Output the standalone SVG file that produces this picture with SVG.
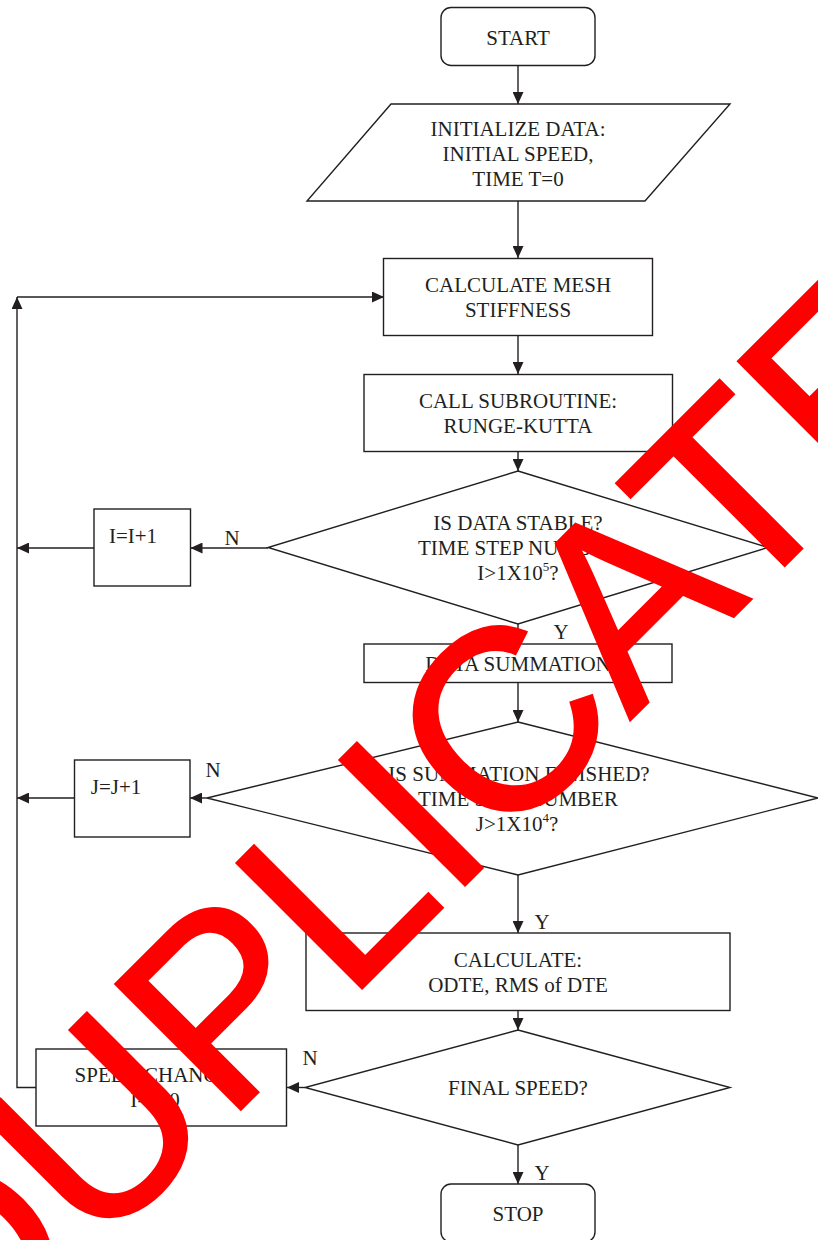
<svg xmlns="http://www.w3.org/2000/svg" width="818" height="1240" viewBox="0 0 818 1240">
<style>
.t{font-family:"Liberation Serif","Times New Roman",serif;font-size:21px;fill:#231f20;text-anchor:middle}
.s{fill:#fff;stroke:#231f20;stroke-width:1.4}
.c{fill:none;stroke:#231f20;stroke-width:1.4}
.wm{font-family:"Liberation Sans",Arial,sans-serif;font-size:257px;fill:#ff0000;stroke:#ff0000;stroke-width:3;stroke-linejoin:miter}
</style>
<defs>
<marker id="ah" markerUnits="userSpaceOnUse" markerWidth="12" markerHeight="11" refX="12" refY="5.5" orient="auto">
<path d="M0,0 L12,5.5 L0,11 Z" fill="#231f20"/>
</marker>
</defs>
<rect width="818" height="1240" fill="#fff"/>
<g id="connectors" class="c" marker-end="url(#ah)">
<line x1="518" y1="66" x2="518" y2="104"/>
<line x1="518" y1="201" x2="518" y2="258"/>
<line x1="518" y1="336" x2="518" y2="374"/>
<line x1="518" y1="451" x2="518" y2="471"/>
<line x1="518" y1="624" x2="518" y2="644"/>
<line x1="518" y1="682" x2="518" y2="722"/>
<line x1="518" y1="875" x2="518" y2="933"/>
<line x1="518" y1="1010" x2="518" y2="1030"/>
<line x1="518" y1="1145" x2="518" y2="1184"/>
<line x1="268" y1="548" x2="190.5" y2="548"/>
<line x1="94" y1="548" x2="17" y2="548"/>
<line x1="207" y1="798" x2="190" y2="798"/>
<line x1="75" y1="798" x2="17" y2="798"/>
<line x1="305" y1="1087.5" x2="287" y2="1087.5"/>
<path d="M36,1087.5 H17 V297"/>
<line x1="17" y1="297" x2="384" y2="297"/>
</g>
<g id="start"><rect class="s" x="441" y="7.5" width="154" height="58" rx="10"/><text class="t" x="518" y="45">START</text></g>
<g id="init"><polygon class="s" points="391,104 730,104 645,201 307,201"/>
<text class="t" x="518" y="136">INITIALIZE DATA:</text><text class="t" x="518" y="161">INITIAL SPEED,</text><text class="t" x="518" y="186">TIME T=0</text></g>
<g id="mesh"><rect class="s" x="383.5" y="258.5" width="269" height="77"/><text class="t" x="518" y="292">CALCULATE MESH</text><text class="t" x="518" y="317">STIFFNESS</text></g>
<g id="rk"><rect class="s" x="364" y="374.5" width="308.5" height="77"/><text class="t" x="518" y="408">CALL SUBROUTINE:</text><text class="t" x="518" y="433">RUNGE-KUTTA</text></g>
<g id="stable"><polygon class="s" points="518,471 768,547.5 518,624 268,547.5"/>
<text class="t" x="518" y="530">IS DATA STABLE?</text><text class="t" x="518" y="555">TIME STEP NUMBER</text><text class="t" x="518" y="580">I&gt;1X10<tspan font-size="13" dy="-9">5</tspan><tspan dy="9">?</tspan></text></g>
<g id="inc-i"><rect class="s" x="94" y="509" width="96.5" height="77"/><text class="t" x="133" y="543">I=I+1</text></g>
<g id="sum"><rect class="s" x="364" y="644" width="308" height="38.5"/><text class="t" x="518" y="671">DATA SUMMATION</text></g>
<g id="finished"><polygon class="s" points="518,722 818,798 518,875 207,798"/>
<text class="t" x="519" y="781">IS SUMMATION FINISHED?</text><text class="t" x="518" y="806">TIME STEP NUMBER</text><text class="t" x="517" y="831">J&gt;1X10<tspan font-size="13" dy="-9">4</tspan><tspan dy="9">?</tspan></text></g>
<g id="inc-j"><rect class="s" x="74.5" y="760" width="115.5" height="77"/><text class="t" x="116" y="794">J=J+1</text></g>
<g id="calc"><rect class="s" x="306" y="933" width="424" height="77.5"/><text class="t" x="518" y="967">CALCULATE:</text><text class="t" x="518" y="992">ODTE, RMS of DTE</text></g>
<g id="final"><polygon class="s" points="518,1030 730,1087.5 518,1145 305,1087.5"/><text class="t" x="518" y="1095">FINAL SPEED?</text></g>
<g id="speed"><rect class="s" x="36" y="1049" width="250.5" height="77"/><text class="t" x="153" y="1082">SPEED CHANGE</text><text class="t" x="155" y="1107">I=J=0</text></g>
<g id="stop"><rect class="s" x="441" y="1184" width="154" height="58" rx="10"/><text class="t" x="518" y="1221">STOP</text></g>
<g id="labels">
<text class="t" x="232" y="545">N</text>
<text class="t" x="561" y="639">Y</text>
<text class="t" x="213" y="777">N</text>
<text class="t" x="542" y="929">Y</text>
<text class="t" x="310" y="1065">N</text>
<text class="t" x="542" y="1180">Y</text>
</g>
<text class="wm" x="-36.5" y="1386.5" transform="rotate(-45 -36.5 1386.5)">DUPLICATE</text>
</svg>
